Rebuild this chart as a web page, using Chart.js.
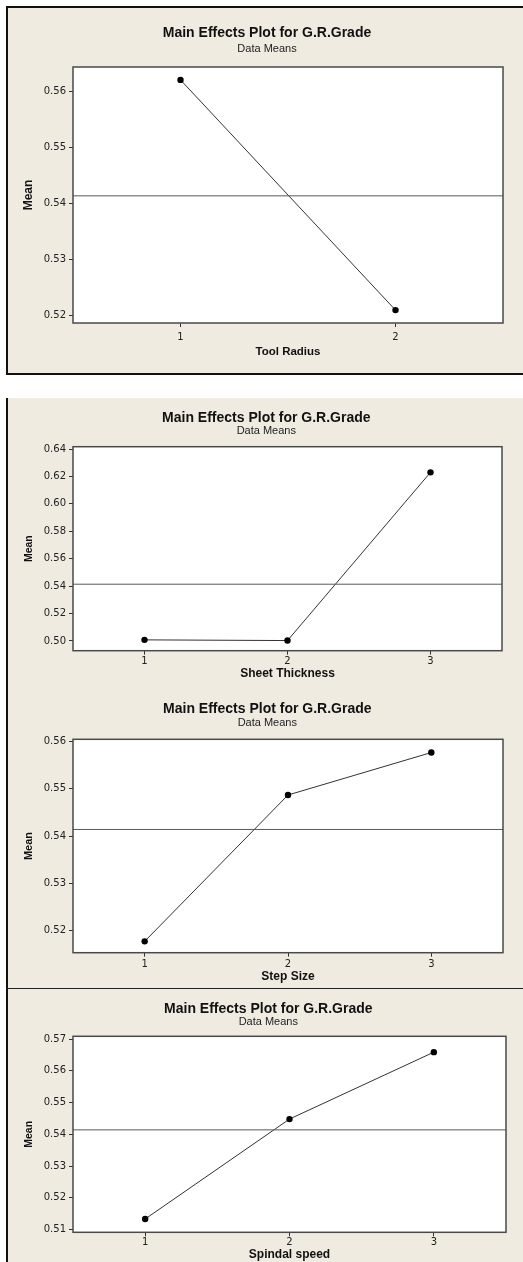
<!DOCTYPE html>
<html><head><meta charset="utf-8">
<script src="https://cdn.jsdelivr.net/npm/chart.js@4"></script>
<style>
html,body{margin:0;padding:0;background:#fff;}
body{width:523px;height:1262px;position:relative;overflow:hidden;}
.panel{position:absolute;background:#EFEBE1;box-sizing:border-box;}
#p1{left:6px;top:6px;width:517px;height:369px;border-left:2px solid #111;border-top:2px solid #111;border-bottom:2px solid #111;}
#p2{left:6px;top:398px;width:517px;height:864px;border-left:2px solid #111;}
#sep{position:absolute;left:6px;top:988px;width:517px;height:0;border-top:1.5px solid #222;}
.cw{position:absolute;left:8px;width:515px;}
canvas{display:block;}
</style>
</head>
<body>
<div class="panel" id="p1"></div>
<div class="panel" id="p2"></div>
<div id="sep"></div>
<div class="cw" style="top:8px;height:365px"><canvas id="c1" width="515" height="365"></canvas></div>
<div class="cw" style="top:398px;height:290px"><canvas id="c2" width="515" height="290"></canvas></div>
<div class="cw" style="top:688px;height:300px"><canvas id="c3" width="515" height="300"></canvas></div>
<div class="cw" style="top:990px;height:272px"><canvas id="c4" width="515" height="272"></canvas></div>
<script>
// ---- data ----
const chartTitle = 'Main Effects Plot for G.R.Grade';
const chartSubtitle = 'Data Means';
const yAxisLabel = 'Mean';
const grandMean = 0.5414;

const toolRadiusLevels = ['1', '2'];
const toolRadiusMeans = [0.5621, 0.5210];
const toolRadiusTicks = [0.52, 0.53, 0.54, 0.55, 0.56];

const sheetThicknessLevels = ['1', '2', '3'];
const sheetThicknessMeans = [0.5008, 0.5003, 0.6230];
const sheetThicknessTicks = [0.50, 0.52, 0.54, 0.56, 0.58, 0.60, 0.62, 0.64];

const stepSizeLevels = ['1', '2', '3'];
const stepSizeMeans = [0.5177, 0.5487, 0.5577];
const stepSizeTicks = [0.52, 0.53, 0.54, 0.55, 0.56];

const spindalSpeedLevels = ['1', '2', '3'];
const spindalSpeedMeans = [0.5133, 0.5448, 0.5659];
const spindalSpeedTicks = [0.51, 0.52, 0.53, 0.54, 0.55, 0.56, 0.57];

// ---- rendering ----
const TITLE_FONT = "'Liberation Sans', Arial, sans-serif";
const TICK_FONT = "'DejaVu Sans', Verdana, sans-serif";

const framePlugin = {
  id: 'frame',
  beforeDraw(chart) {
    const a = chart.chartArea, ctx = chart.ctx;
    ctx.save();
    ctx.fillStyle = '#ffffff';
    ctx.fillRect(a.left, a.top, a.right - a.left, a.bottom - a.top);
    ctx.restore();
  },
  afterDraw(chart) {
    const a = chart.chartArea, ctx = chart.ctx;
    ctx.save();
    ctx.strokeStyle = '#4a4a4a';
    ctx.lineWidth = 1.5;
    ctx.strokeRect(a.left, a.top, a.right - a.left, a.bottom - a.top);
    ctx.restore();
  }
};

function makePanel(id, levels, means, ticks, yMin, yMax, xLabel, g) {
  const cl = 8, cw = 515;
  const L = 2 * (g.titleCX - cl) - cw;
  const y2w = cl + cw - g.chartR;
  const yWidth = g.chartL - cl - L;
  const yTitlePad = g.yTitleX - cl - L - g.meanSize * 0.6;
  const titlePadTop = g.titleY - g.top - 7;
  const subPadTop = g.subY - 5.5 - (g.titleY + 7);
  const subPadBottom = g.chartT - g.subY - 5.5;
  const xHeight = g.top + g.h - g.chartB;
  const xTickPad = Math.max(0, g.xTickY - 5.6 - g.chartB - 4);
  const xTitlePadBottom = g.top + g.h - g.xTitleY - g.xTitleSize * 0.6;
  const xMin = 0.5, xMax = levels.length + 0.5;
  const levelValues = levels.map((_, i) => i + 1);

  new Chart(document.getElementById(id), {
    type: 'line',
    data: {
      datasets: [
        {
          data: [{x: xMin, y: grandMean}, {x: xMax, y: grandMean}],
          borderColor: '#5a5a5a', borderWidth: 1, pointRadius: 0, fill: false
        },
        {
          data: means.map((v, i) => ({x: levelValues[i], y: v})),
          borderColor: '#333333', borderWidth: 1,
          pointRadius: 3.2, pointBackgroundColor: '#000', pointBorderColor: '#000', pointBorderWidth: 0,
          fill: false, tension: 0
        }
      ]
    },
    options: {
      responsive: false, animation: false, devicePixelRatio: 1,
      layout: {padding: {left: L, right: 0, top: 0, bottom: 0}},
      plugins: {
        legend: {display: false}, tooltip: {enabled: false},
        title: {display: true, text: chartTitle, color: '#111',
          font: {family: TITLE_FONT, size: 14, weight: 'bold', lineHeight: 1},
          padding: {top: titlePadTop, bottom: 0}},
        subtitle: {display: true, text: chartSubtitle, color: '#222',
          font: {family: TITLE_FONT, size: 11, weight: 'normal', lineHeight: 1},
          padding: {top: subPadTop, bottom: subPadBottom}}
      },
      scales: {
        x: {
          type: 'linear', position: 'bottom', min: xMin, max: xMax,
          afterBuildTicks: s => { s.ticks = levelValues.map(v => ({value: v})); },
          afterFit: s => { s.height = xHeight; },
          ticks: {color: '#222', font: {family: TICK_FONT, size: 10}, padding: xTickPad,
            maxRotation: 0, autoSkip: false,
            callback: v => levels[levelValues.indexOf(v)] ?? ''},
          grid: {display: true, drawOnChartArea: false, drawTicks: true, tickLength: 4, color: '#333', tickWidth: 1},
          border: {display: false},
          title: {display: true, text: xLabel, color: '#111',
            font: {family: TITLE_FONT, size: g.xTitleSize, weight: 'bold', lineHeight: 1.2},
            padding: {top: 0, bottom: xTitlePadBottom}}
        },
        y: {
          type: 'linear', position: 'left', min: yMin, max: yMax,
          afterBuildTicks: s => { s.ticks = ticks.map(v => ({value: v})); },
          afterFit: s => { s.width = yWidth; },
          ticks: {color: '#222', font: {family: TICK_FONT, size: 10}, padding: 3,
            callback: v => Number(v).toFixed(2)},
          grid: {display: true, drawOnChartArea: false, drawTicks: true, tickLength: 4, color: '#333', tickWidth: 1},
          border: {display: false},
          title: {display: true, text: yAxisLabel, color: '#111',
            font: {family: TITLE_FONT, size: g.meanSize, weight: 'bold', lineHeight: 1.2},
            padding: {top: yTitlePad, bottom: 0}}
        },
        y2: {
          type: 'linear', position: 'right', display: true,
          afterFit: s => { s.width = y2w; },
          ticks: {display: false}, grid: {display: false}, border: {display: false}
        }
      }
    },
    plugins: [framePlugin]
  });
}

makePanel('c1', toolRadiusLevels, toolRadiusMeans, toolRadiusTicks, 0.5187, 0.5644, 'Tool Radius',
  {top: 8, h: 365, chartL: 73, chartR: 503, chartT: 67, chartB: 323, titleY: 33, subY: 49, titleCX: 267,
   yTitleX: 29, xTickY: 336.7, xTitleY: 352, meanSize: 12, xTitleSize: 11.5});
makePanel('c2', sheetThicknessLevels, sheetThicknessMeans, sheetThicknessTicks, 0.4929, 0.6417, 'Sheet Thickness',
  {top: 398, h: 290, chartL: 73, chartR: 502, chartT: 446.7, chartB: 650.7, titleY: 417.7, subY: 431, titleCX: 266.3,
   yTitleX: 29.3, xTickY: 660.7, xTitleY: 674, meanSize: 10.5, xTitleSize: 12});
makePanel('c3', stepSizeLevels, stepSizeMeans, stepSizeTicks, 0.5153, 0.5605, 'Step Size',
  {top: 688, h: 300, chartL: 73, chartR: 503, chartT: 739.3, chartB: 952.7, titleY: 709, subY: 722.7, titleCX: 267.3,
   yTitleX: 29.3, xTickY: 964, xTitleY: 977, meanSize: 11, xTitleSize: 12});
makePanel('c4', spindalSpeedLevels, spindalSpeedMeans, spindalSpeedTicks, 0.5091, 0.5709, 'Spindal speed',
  {top: 990, h: 272, chartL: 73, chartR: 506, chartT: 1036.3, chartB: 1232.3, titleY: 1009, subY: 1021.7, titleCX: 268.3,
   yTitleX: 29.3, xTickY: 1241.7, xTitleY: 1254.3, meanSize: 10.5, xTitleSize: 12});
</script>
</body></html>
